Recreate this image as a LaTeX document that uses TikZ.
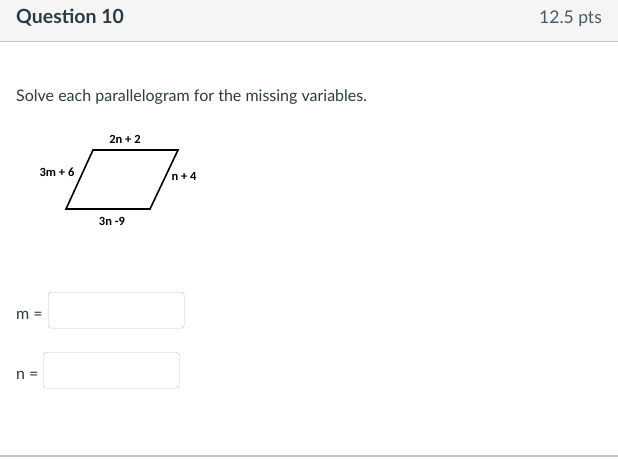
\documentclass[tikz,border=0pt]{standalone}
\usepackage{fontspec}
\setmainfont{Lato}
\newfontfamily\calib{Carlito}
\definecolor{hdrbg}{HTML}{F5F5F5}
\definecolor{hdrline}{HTML}{C4C8CC}
\definecolor{txt}{HTML}{2D3B45}
\definecolor{boxline}{HTML}{BCC2C6}
\tikzset{
  lbl/.style={font=\calib\bfseries\fontsize{12.5}{15}\selectfont, inner sep=0pt},
  ansbox/.style={draw=boxline, rounded corners=3pt, minimum width=136pt, minimum height=36pt, inner sep=0pt},
  body/.style={font=\fontsize{16}{19}\selectfont, text=txt, inner sep=0pt, anchor=west}
}
\begin{document}
\begin{tikzpicture}[x=1pt,y=-1pt]
\useasboundingbox (0,0) rectangle (618,458);
\fill[hdrbg] (0,0) rectangle (618,41);
\draw[hdrline, line width=1pt] (0,41) -- (618,41);
\node[anchor=base west, inner sep=0pt, text=txt, font=\bfseries\fontsize{19.5}{23}\selectfont] (q) at (16,23) {Question 10};
\node[anchor=base east, inner sep=0pt, text=txt!85, font=\fontsize{17.5}{21}\selectfont] (pts) at (602,23) {12.5 pts};
\node[body, anchor=base west] (instr) at (16,101) {Solve each parallelogram for the missing variables.};
% parallelogram
\coordinate (tl) at (93,150);
\coordinate (tr) at (178,150);
\coordinate (br) at (150,209);
\coordinate (bl) at (66,209);
\draw[line width=1.6pt, line join=miter] (tl) -- (tr) -- (br) -- (bl) -- cycle;
\node[lbl] (top) at (125,139) {2n + 2};
\node[lbl] (left) at (57,172) {3m + 6};
\node[lbl] (right) at (184,176) {n + 4};
\node[lbl] (bot) at (112,221) {3n -9};
% answer boxes
\node[body, anchor=base west] (mlab) at (16,319) {m =};
\node[ansbox, anchor=north west] (mbox) at (48,292) {};
\node[body, anchor=base west] (nlab) at (16,379) {n =};
\node[ansbox, anchor=north west] (nbox) at (43,352) {};
\draw[hdrline, line width=1.5pt] (0,456) -- (618,456);
\end{tikzpicture}
\end{document}
